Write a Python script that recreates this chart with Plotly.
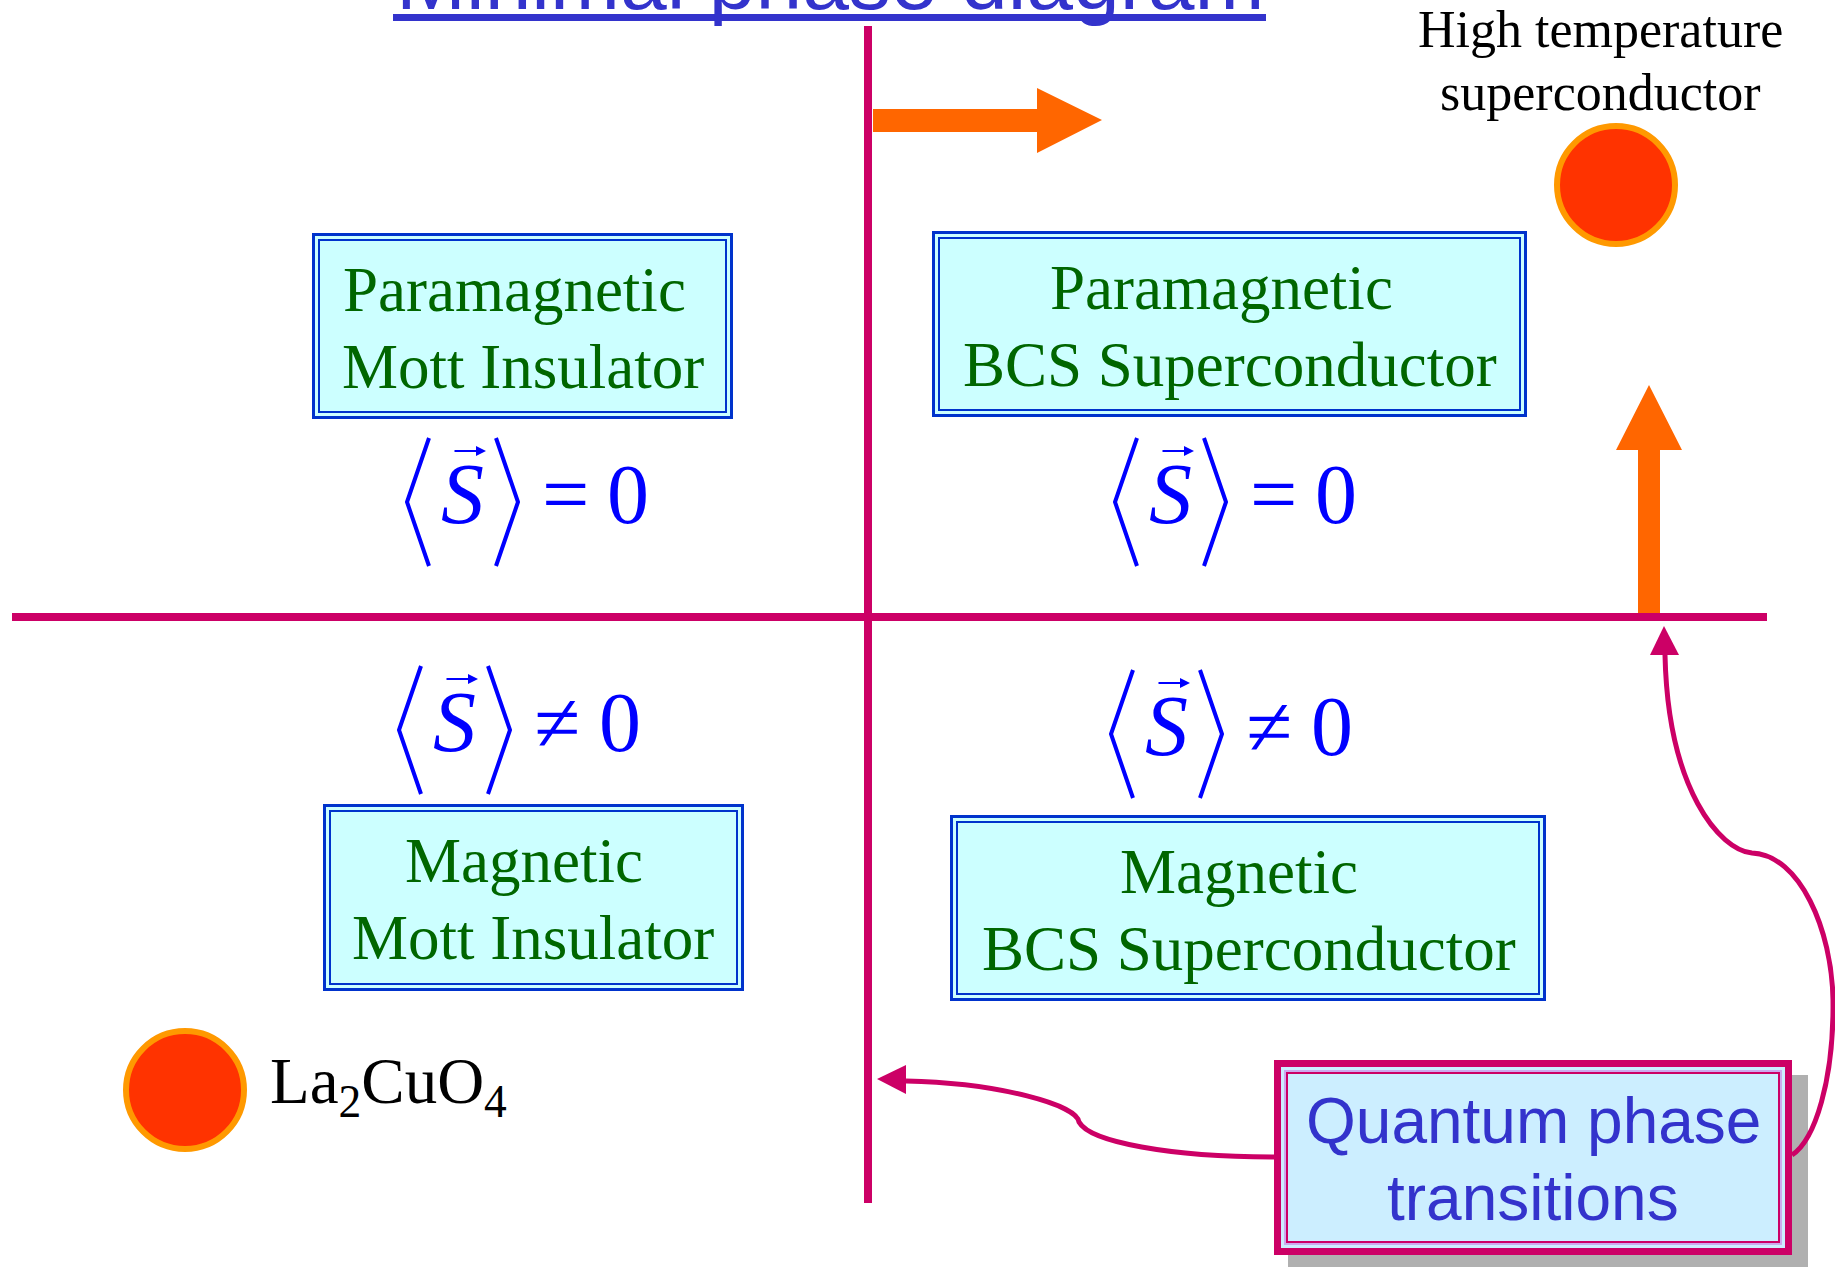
import plotly.graph_objects as go

# canvas in pixels, y grows downward
W, H = 1835, 1267

title = "Minimal phase diagram"
phase_line1 = ["Paramagnetic", "Paramagnetic", "Magnetic", "Magnetic"]
phase_line2 = ["Mott Insulator", "BCS Superconductor", "Mott Insulator", "BCS Superconductor"]
spin_relation = ["=", "=", "≠", "≠"]
spin_value = ["0", "0", "0", "0"]
parent_label = "La<sub>2</sub>CuO<sub>4</sub>"
htsc_label = ["High temperature", "superconductor"]
qpt_label = ["Quantum phase", "transitions"]

# layout of the four quadrants (box x0, x1, y0, y1 ; line centres ; bracket anchor)
boxes = [(312, 733, 233, 419), (932, 1527, 231, 417), (323, 744, 804, 991), (950, 1546, 815, 1001)]
line_cx = [(514, 523), (1221, 1230), (524, 533), (1239, 1249)]
brackets = [(407, 502), (1115, 502), (399, 730), (1111, 734)]

PINK = "#cc0066"
ORANGE = "#ff6600"
BLUE = "#0000ff"
GREEN = "#006600"
SERIF = "Liberation Serif"
SANS = "Liberation Sans"

fig = go.Figure()
shapes = []
annotations = []


def label(x, base, text, size, color, family, style="normal", anchor="center"):
    annotations.append(dict(x=x, y=base - 0.34 * size, xref="x", yref="y", text=text,
                            showarrow=False, xanchor=anchor, yanchor="middle",
                            font=dict(family=family, size=size, color=color, style=style)))


# phase boundaries
shapes.append(dict(type="line", x0=12, x1=1767, y0=617, y1=617, line=dict(color=PINK, width=8)))
shapes.append(dict(type="line", x0=868, x1=868, y0=26, y1=1203, line=dict(color=PINK, width=8)))

# orange arrows
shapes.append(dict(type="path", path="M 873,109 L 1037,109 L 1037,88 L 1102,120 L 1037,153 L 1037,132 L 873,132 Z",
                   fillcolor=ORANGE, line=dict(width=0)))
shapes.append(dict(type="path", path="M 1638,613 L 1638,450 L 1616,450 L 1649,385 L 1682,450 L 1660,450 L 1660,613 Z",
                   fillcolor=ORANGE, line=dict(width=0)))

# phase boxes with double border
for i, (x0, x1, y0, y1) in enumerate(boxes):
    shapes.append(dict(type="rect", x0=x0 + 1.5, x1=x1 - 1.5, y0=y0 + 1.5, y1=y1 - 1.5,
                       fillcolor="#ccffff", line=dict(color="#0033cc", width=3)))
    shapes.append(dict(type="rect", x0=x0 + 7, x1=x1 - 7, y0=y0 + 7, y1=y1 - 7,
                       line=dict(color="#0033cc", width=2)))
    label(line_cx[i][0], y0 + 78, phase_line1[i], 63, GREEN, SERIF)
    label(line_cx[i][1], y0 + 155, phase_line2[i], 63, GREEN, SERIF)

# order parameter <S> = 0 / != 0
for i, (bx, by) in enumerate(brackets):
    shapes.append(dict(type="path", path=f"M {bx+22},{by-64} L {bx},{by} L {bx+22},{by+64}",
                       line=dict(color=BLUE, width=4)))
    shapes.append(dict(type="path", path=f"M {bx+89},{by-64} L {bx+111},{by} L {bx+89},{by+64}",
                       line=dict(color=BLUE, width=4)))
    label(bx + 55, by + 21, "S", 86, BLUE, SERIF, style="italic")
    annotations.append(dict(x=bx + 79, y=by - 51, ax=bx + 46, ay=by - 51, xref="x", yref="y",
                            axref="x", ayref="y", text="", showarrow=True, arrowhead=2,
                            arrowsize=1, arrowwidth=2, arrowcolor=BLUE))
    label(bx + 158, by + 21, spin_relation[i], 84, BLUE, SERIF)
    label(bx + 221, by + 21, spin_value[i], 84, BLUE, SERIF)

# materials
shapes.append(dict(type="circle", x0=1557, x1=1675, y0=126, y1=244,
                   fillcolor="#ff3300", line=dict(color="#ff9900", width=6)))
shapes.append(dict(type="circle", x0=126, x1=244, y0=1031, y1=1149,
                   fillcolor="#ff3300", line=dict(color="#ff9900", width=6)))
label(268, 1108, parent_label, 65, "black", SERIF, anchor="left")
label(1600, 47, htsc_label[0], 52, "black", SERIF)
label(1600, 110, htsc_label[1], 52, "black", SERIF)

# quantum phase transitions box with shadow
shapes.append(dict(type="rect", x0=1288, x1=1808, y0=1075, y1=1267, fillcolor="#b0b0b0", line=dict(width=0)))
shapes.append(dict(type="rect", x0=1277.5, x1=1788.5, y0=1063.5, y1=1251.5,
                   fillcolor="#cceeff", line=dict(color=PINK, width=7)))
shapes.append(dict(type="rect", x0=1285, x1=1781, y0=1071, y1=1244, line=dict(color="#ccaaee", width=2)))
shapes.append(dict(type="rect", x0=1287, x1=1779, y0=1073, y1=1242, line=dict(color=PINK, width=2)))
label(1533, 1143, qpt_label[0], 64, "#3333cc", SANS)
label(1533, 1220, qpt_label[1], 64, "#3333cc", SANS)

# connectors from the box to the two transitions
shapes.append(dict(type="path", path="M 1274,1157 C 1170,1157 1090,1142 1079,1122 C 1077,1105 1000,1083 906,1081",
                   line=dict(color=PINK, width=5)))
shapes.append(dict(type="path", path="M 877,1079 L 906,1065 L 906,1094 Z", fillcolor=PINK, line=dict(width=0)))
shapes.append(dict(type="path",
                   path="M 1792,1155 C 1815,1140 1834,1080 1833,1000 C 1832,930 1800,855 1752,853 "
                        "C 1720,850 1668,790 1665,655",
                   line=dict(color=PINK, width=5)))
shapes.append(dict(type="path", path="M 1664,626 L 1650,655 L 1679,655 Z", fillcolor=PINK, line=dict(width=0)))

# title, mostly off the top edge
annotations.append(dict(x=830 / W, y=1 + 20 / H, xref="paper", yref="paper", text=title, showarrow=False,
                        xanchor="center", yanchor="middle",
                        font=dict(family=SANS, size=84, color="#3333cc")))
shapes.append(dict(type="line", x0=393, x1=1266, y0=17.5, y1=17.5, line=dict(color="#3333cc", width=7)))

fig.update_layout(
    width=W, height=H, margin=dict(l=0, r=0, t=0, b=0),
    paper_bgcolor="white", plot_bgcolor="white", showlegend=False,
    xaxis=dict(range=[0, W], visible=False, fixedrange=True),
    yaxis=dict(range=[H, 0], visible=False, fixedrange=True),
    shapes=shapes, annotations=annotations,
)

fig.write_html("out.html", config={"displayModeBar": False},
               post_script="document.body.style.margin='0';document.body.style.overflow='hidden';")
